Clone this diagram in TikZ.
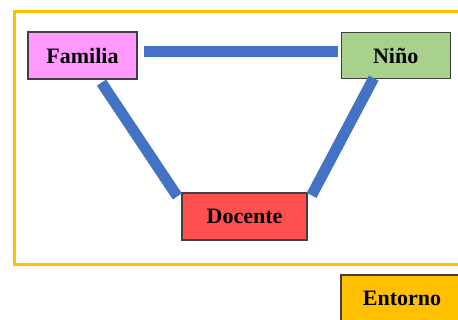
\documentclass[tikz,border=0pt]{standalone}
\usepackage{fontspec}
\setmainfont{Liberation Serif}
\usetikzlibrary{positioning}

\definecolor{entornoyellow}{HTML}{FFC000}
\definecolor{linkblue}{HTML}{4472C4}
\definecolor{familiapink}{HTML}{FF99FF}
\definecolor{ninogreen}{HTML}{A9D18E}
\definecolor{docentered}{HTML}{FF5050}

\begin{document}
\begin{tikzpicture}[
            x=1pt, y=-1pt,
            base/.style = {rectangle, draw=black!75, line width=1.2pt, text centered, inner sep=0pt,
                           minimum height=47pt, font=\fontsize{22}{26}\selectfont\bfseries},
            familiabox/.style = {base, fill=familiapink, minimum width=109pt},
            ninobox/.style = {base, fill=ninogreen, minimum width=109pt, minimum height=46pt},
            docentebox/.style = {base, fill=docentered, minimum width=125pt},
            entornobox/.style = {base, fill=entornoyellow, minimum width=122pt},
            frame/.style = {draw=entornoyellow, line width=3pt},
            link/.style = {draw=linkblue, line width=11pt}
        ]
            \useasboundingbox (0,0) rectangle (458,320);

            % --- 1. Frame ---
            \draw [frame] (14.5,11.5) rectangle (475,264.5);

            % --- 2. Nodes ---
            \node [familiabox] (familia) at (82.5,55.5) {Familia};
            \node [ninobox, right=203pt of familia] (nino) {Niño};
            \node [docentebox] (docente) at (244.5,216.5) {Docente};
            \node [entornobox] (entorno) at (402,298.5) {Entorno};

            % --- 3. Connections ---
            \draw [link] ([xshift=6pt,yshift=3.5pt]familia.east) -- ([xshift=-3pt,yshift=3.5pt]nino.west);
            \draw [link] ([xshift=19pt,yshift=-3pt]familia.south) -- ([xshift=-4pt,yshift=-4pt]docente.north west);
            \draw [link] ([xshift=-22pt,yshift=1pt]nino.south) -- ([xshift=4pt,yshift=-3pt]docente.north east);

        \end{tikzpicture}
\end{document}
